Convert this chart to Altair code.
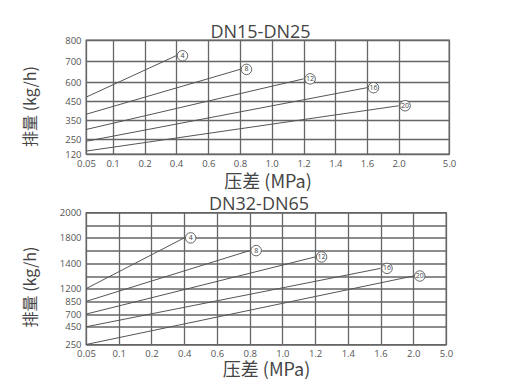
import altair as alt
import pandas as pd

# ---------------- data ----------------
series = ["4", "8", "12", "16", "20"]

# DN15-DN25
top_x_ticks = [0.05, 0.1, 0.2, 0.4, 0.6, 0.8, 1.0, 1.2, 1.4, 1.6, 2.0, 5.0]
top_x_labels = ["0.05", "0.1", "0.2", "0.4", "0.6", "0.8", "1.0", "1.2", "1.4", "1.6", "2.0", "5.0"]
top_y_ticks = [120, 250, 350, 450, 600, 700, 800]
top_y_labels = ["120", "250", "350", "450", "600", "700", "800"]
top_x_start = [0.05, 0.05, 0.05, 0.05, 0.05]
top_x_end = [0.4, 0.8, 1.2, 1.6, 2.0]
top_y_start = [480, 380, 300, 230, 145]
top_y_end = [725, 660, 615, 555, 425]

# DN32-DN65
bot_x_ticks = [0.05, 0.1, 0.2, 0.4, 0.6, 0.8, 1.0, 1.2, 1.4, 1.6, 2.0, 5.0]
bot_x_labels = ["0.05", "0.1", "0.2", "0.4", "0.6", "0.8", "1.0", "1.2", "1.4", "1.6", "2.0", "5.0"]
bot_y_grid = [250, 450, 700, 850, 1200, 1300, 1400, 1600, 1800, 1900, 2000]
bot_y_labels = ["250", "450", "700", "850", "1200", "", "1400", "", "1800", "", "2000"]
bot_x_start = [0.05, 0.05, 0.05, 0.05, 0.05]
bot_x_end = [0.4, 0.8, 1.2, 1.6, 2.0]
bot_y_start = [1200, 850, 700, 450, 250]
bot_y_end = [1800, 1600, 1500, 1360, 1300]

# ---------------- layout of the (non-uniform) printed scales ----------------
TOP_W, TOP_H = 363, 114
BOT_W, BOT_H = 360, 132
top_x_range = [0, 26.6, 58.6, 90, 122.3, 154, 185.6, 217.6, 249.3, 281, 312.6, 363]
top_y_range = [114, 99, 80, 61, 42, 21, 0]
bot_x_range = [i * BOT_W / 11 for i in range(12)]
bot_y_range = [132, 114.3, 101.6, 88.9, 76.2, 63.5, 50.8, 38.1, 25.4, 12.7, 0]

FONT = "Open Sans, Noto Sans CJK SC"
CJK = "Noto Sans CJK SC, Open Sans"
GRID = "#666666"
LINE = "#555555"
TXT = "#555555"


def label_expr(values, labels):
    expr = "''"
    for v, l in reversed(list(zip(values, labels))):
        expr = f"abs(datum.value - {v}) < 1e-6 ? '{l}' : ({expr})"
    return expr


def panel(title, xt, xl, xr, yt, yl, yr, xs, xe, ys, ye, w, h, title_y, xpad):
    df = pd.DataFrame({"s": series, "x0": xs, "x1": xe, "y0": ys, "y1": ye})
    xscale = alt.Scale(domain=xt, range=xr, zero=False, nice=False)
    yscale = alt.Scale(domain=yt, range=yr, zero=False, nice=False)
    xaxis = alt.Axis(values=xt, tickCount=100, labelExpr=label_expr(xt, xl), grid=True, ticks=False,
                     domain=False, gridColor=GRID, gridWidth=1.3, gridOpacity=1,
                     labelFont=FONT, labelFontSize=9.5, labelColor=TXT, labelPadding=4,
                     labelFlush=False, labelOverlap=False,
                     title="压差 (MPa)", titleFont=CJK, titleFontSize=18,
                     titleFontWeight="normal", titleColor="#444444", titlePadding=xpad)
    yaxis = alt.Axis(values=yt, tickCount=100, labelExpr=label_expr(yt, yl), grid=True, ticks=False,
                     domain=False, gridColor=GRID, gridWidth=1.3, gridOpacity=1,
                     labelFont=FONT, labelFontSize=9.5, labelColor=TXT, labelPadding=5,
                     labelFlush=False, labelOverlap=False,
                     title="排量 (kg/h)", titleFont=CJK, titleFontSize=16,
                     titleFontWeight="normal", titleColor="#444444",
                     titleX=-56, titleY=title_y, titleBaseline="middle", titleAlign="center",
                     titleAngle=270)
    base = alt.Chart(df)
    rules = base.mark_rule(color=LINE, strokeWidth=1).encode(
        x=alt.X("x0:Q", scale=xscale, axis=xaxis),
        x2="x1:Q",
        y=alt.Y("y0:Q", scale=yscale, axis=yaxis),
        y2="y1:Q",
    )
    circ = base.mark_point(shape="circle", size=110, filled=True, fill="white",
                           stroke=LINE, strokeWidth=0.9, opacity=1, xOffset=6.5).encode(
        x=alt.X("x1:Q", scale=xscale), y=alt.Y("y1:Q", scale=yscale))
    txt = base.mark_text(fontSize=7, font=FONT, color="#444444", xOffset=6.5,
                         baseline="middle", align="center").encode(
        x=alt.X("x1:Q", scale=xscale), y=alt.Y("y1:Q", scale=yscale), text="s:N")
    return alt.layer(rules, circ, txt).properties(
        width=w, height=h,
        title=alt.TitleParams(title, fontSize=18, font=FONT, fontWeight="normal",
                              color="#444444", offset=-6.5, dx=-7, anchor="middle"),
    )


top = panel("DN15-DN25", top_x_ticks, top_x_labels, top_x_range, top_y_ticks, top_y_labels,
            top_y_range, top_x_start, top_x_end, top_y_start, top_y_end, TOP_W, TOP_H, 66, 6)
bot = panel("DN32-DN65", bot_x_ticks, bot_x_labels, bot_x_range, bot_y_grid, bot_y_labels,
            bot_y_range, bot_x_start, bot_x_end, bot_y_start, bot_y_end, BOT_W, BOT_H, 74, 3)

chart = alt.vconcat(top, bot, spacing=1.5).properties(
    padding={"left": 13, "top": 14, "right": 5, "bottom": 0},
    background="white",
).configure_view(stroke=GRID, strokeWidth=1.3)

chart.save("out.html", embed_options={"renderer": "svg", "actions": False})
